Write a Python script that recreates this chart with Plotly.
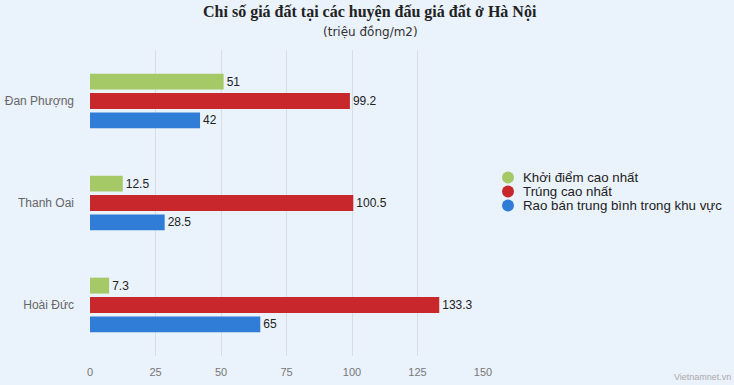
import plotly.graph_objects as go

categories = ["Đan Phượng", "Thanh Oai", "Hoài Đức"]
khoi_diem = [51, 12.5, 7.3]
trung = [99.2, 100.5, 133.3]
rao_ban = [42, 28.5, 65]
series_names = ["Khởi điểm cao nhất", "Trúng cao nhất", "Rao bán trung bình trong khu vực"]
colors = ["#A5C967", "#C8282B", "#2F7DD6"]
tick_vals = [0, 25, 50, 75, 100, 125, 150]

SANS = "Liberation Sans"
W, H = 734, 385
ML, MR, MT, MB = 90, 251, 50, 29
PW, PH = W - ML - MR, H - MT - MB


def px_x(px):
    return (px - ML) / PW


def px_y(py):
    return (H - MB - py) / PH


fig = go.Figure()
for name, vals, col in zip(series_names, [khoi_diem, trung, rao_ban], colors):
    fig.add_trace(go.Bar(
        y=categories, x=vals, orientation="h", name=name,
        marker=dict(color=col, line=dict(width=0)),
        text=[f"{v:g}" for v in vals], textposition="outside",
        textfont=dict(family=SANS, size=12, color="#222"),
        cliponaxis=False, showlegend=False,
    ))

annotations = [
    dict(text="<b>Chỉ số giá đất tại các huyện đấu giá đất ở Hà Nội</b>",
         xref="paper", yref="paper", x=px_x(370), xanchor="center",
         y=px_y(12), yanchor="middle", showarrow=False,
         font=dict(family="Liberation Serif", size=16, color="#222")),
    dict(text="(triệu đồng/m2)", xref="paper", yref="paper", x=px_x(370),
         xanchor="center", y=px_y(32), yanchor="middle",
         showarrow=False, font=dict(family="DejaVu Sans", size=12, color="#333")),
    dict(text="Vietnamnet.vn", xref="paper", yref="paper", x=px_x(733), y=px_y(384),
         xanchor="right", yanchor="bottom", showarrow=False,
         font=dict(family=SANS, size=9, color="#aaa")),
]
shapes = []
legend_rows = [177.5, 191.5, 205.5]
for name, col, ry in zip(series_names, colors, legend_rows):
    shapes.append(dict(type="circle", xref="paper", yref="paper",
                       x0=px_x(502), x1=px_x(514), y0=px_y(ry + 6), y1=px_y(ry - 6),
                       fillcolor=col, line=dict(width=0)))
    annotations.append(dict(text=name, xref="paper", yref="paper", x=px_x(521),
                            y=px_y(ry), xanchor="left", yanchor="middle",
                            showarrow=False,
                            font=dict(family=SANS, size=13.3, color="#222")))

fig.update_layout(
    width=W, height=H,
    paper_bgcolor="#EAF2FB", plot_bgcolor="#EAF2FB",
    margin=dict(l=ML, r=MR, t=MT, b=MB, autoexpand=False),
    barmode="group", bargap=0.43, bargroupgap=0.18,
    showlegend=False,
    xaxis=dict(
        range=[0, 150], tickvals=tick_vals, showgrid=True, gridcolor="#D9DEE4",
        gridwidth=1, zeroline=False, showline=False, automargin=False,
        tickfont=dict(family=SANS, size=11, color="#777"),
        ticks="", ticklen=0, ticklabelstandoff=8,
    ),
    yaxis=dict(
        autorange="reversed", showgrid=False, zeroline=False, showline=False,
        automargin=False,
        tickfont=dict(family=SANS, size=12, color="#666"),
        ticks="", ticklabelstandoff=15,
    ),
    annotations=annotations,
    shapes=shapes,
)

fig.write_html("out.html", config={"displayModeBar": False},
               post_script="document.body.style.margin='0';")
